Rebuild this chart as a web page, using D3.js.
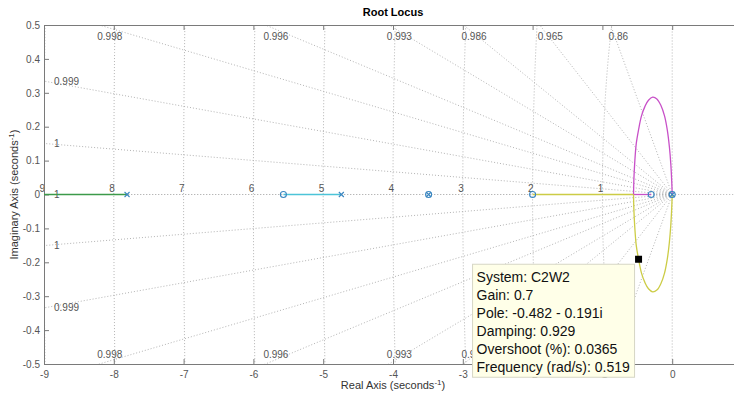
<!DOCTYPE html>
<html>
<head>
<meta charset="utf-8">
<script src="https://cdn.jsdelivr.net/npm/d3@7"></script>
<style>
  body { margin: 0; background: #fff; }
  svg { display: block; font-family: "Liberation Sans", Arial, sans-serif; }
</style>
</head>
<body>
<div id="chart"></div>
<script>
// tick labels
let xTicks = [-9, -8, -7, -6, -5, -4, -3, -2, -1, 0];
let yTicks = [0.5, 0.4, 0.3, 0.2, 0.1, 0, -0.1, -0.2, -0.3, -0.4, -0.5];

// grid: natural frequency circles and damping rays
let freqRadii = [1, 2, 3, 4, 5, 6, 7, 8, 9];
let freqLabels = ['1', '2', '3', '4', '5', '6', '7', '8', '9'];
let dampingValues = [1, 0.99986, 0.99931, 0.99815, 0.99634, 0.9925, 0.9863, 0.967, 0.87];
let dampingLabels = ['1', '1', '0.999', '0.998', '0.996', '0.993', '0.986', '0.965', '0.86'];

// poles and zeros (real parts)
let poles = [-7.81, -4.74, -3.49, 0];
let zeros = [-5.57, -3.49, -2.0, -0.301, 0];

// branches on the real axis [re, im]
let greenBranch = [[-12, 0], [-7.81, 0]];
let cyanBranch = [[-5.57, 0], [-4.74, 0]];
let yellowAxis = [[-2.0, 0], [-0.554, 0]];
let magentaAxis = [[-0.554, 0], [-0.301, 0]];

// upper loop (magenta), the lower one (yellow) is its mirror
let loopRe = [-0.554, -0.548, -0.535, -0.515, -0.482, -0.44, -0.39, -0.34, -0.28, -0.22, -0.16, -0.11, -0.07, -0.04, -0.02, -0.007, 0];
let loopIm = [0, 0.05, 0.10, 0.15, 0.191, 0.232, 0.26, 0.278, 0.287, 0.282, 0.262, 0.232, 0.19, 0.14, 0.09, 0.04, 0];

// data tip
let tipPoint = [-0.482, -0.191];
let tipLines = ['System: C2W2', 'Gain: 0.7', 'Pole: -0.482 - 0.191i', 'Damping: 0.929', 'Overshoot (%): 0.0365', 'Frequency (rad/s): 0.519'];

let margin = { top: 25, right: -8, bottom: 31, left: 44 };
let width = 734 - margin.left - margin.right;
let height = 395 - margin.top - margin.bottom;

let svg = d3.select('#chart')
    .append('svg')
    .attr('width', 734)
    .attr('height', 395)
    .append('g')
    .attr('transform', `translate(${margin.left}, ${margin.top})`);

let x = d3.scaleLinear().domain([-9, 1]).range([0, width]);
let y = d3.scaleLinear().domain([-0.5, 0.5]).range([height, 0]);

svg.append('clipPath').attr('id', 'plotclip')
    .append('rect').attr('width', width).attr('height', height);

let grid = svg.append('g').attr('clip-path', 'url(#plotclip)')
    .attr('fill', 'none')
    .attr('stroke', '#b4b4b4')
    .attr('stroke-width', 1)
    .attr('stroke-dasharray', '1,2');

let line = d3.line().x(d => x(d[0])).y(d => y(d[1]));

// frequency circles (ellipses on screen)
let angles = d3.range(-90, 90.5, 0.5).map(a => a * Math.PI / 180);
freqRadii.forEach(r => {
    grid.append('path').attr('d', line(angles.map(a => [-r * Math.cos(a), r * Math.sin(a)])));
});

// damping rays
dampingValues.forEach(z => {
    let s = Math.sqrt(1 - z * z);
    grid.append('path').attr('d', line([[0, 0], [-20 * z, 20 * s]]));
    grid.append('path').attr('d', line([[0, 0], [-20 * z, -20 * s]]));
});
// real axis to the right, imaginary axis
grid.append('path').attr('d', line([[0, 0], [2, 0]]));
grid.append('path').attr('d', line([[0, -1], [0, 1]]));

// grid labels
let gl = svg.append('g')
    .style('font-size', '10px')
    .attr('fill', '#555');

freqRadii.forEach((r, i) => {
    gl.append('text').text(freqLabels[i])
        .attr('x', x(-r) + 1)
        .attr('y', y(0) - 3)
        .attr('text-anchor', 'end');
});

dampingValues.forEach((z, i) => {
    let slope = Math.sqrt(1 - z * z) / z;
    if (slope * 9 <= 0.5) {
        [1, -1].forEach(sgn => {
            if (slope === 0 && sgn < 0) return;
            gl.append('text').text(dampingLabels[i])
                .attr('x', x(-9) + 10)
                .attr('y', y(sgn * slope * 9))
                .attr('dy', '0.35em');
        });
    } else {
        let cx = x(-0.5 / slope) - 2;
        gl.append('text').text(dampingLabels[i]).attr('x', cx).attr('y', y(0.5) + 15);
        gl.append('text').text(dampingLabels[i]).attr('x', cx).attr('y', y(-0.5) - 6);
    }
});

// axes
let axisColor = '#7a7a7a';
let styleAxis = g => {
    g.select('.domain').attr('stroke', axisColor);
    g.selectAll('.tick line').attr('stroke', axisColor);
    g.selectAll('.tick text').attr('fill', '#555').style('font-size', '10px');
};

svg.append('g')
    .attr('transform', `translate(0,${height})`)
    .call(d3.axisBottom(x).tickValues(xTicks).tickFormat(d => String(d)).tickSizeInner(-5).tickSizeOuter(0).tickPadding(7))
    .call(styleAxis);

svg.append('g')
    .call(d3.axisTop(x).tickValues(xTicks).tickFormat('').tickSizeInner(-5).tickSizeOuter(0))
    .call(styleAxis);

svg.append('g')
    .call(d3.axisLeft(y).tickValues(yTicks).tickFormat(d => String(d)).tickSizeInner(-5).tickSizeOuter(0).tickPadding(4))
    .call(styleAxis);

// branches
let plot = svg.append('g').attr('clip-path', 'url(#plotclip)').attr('fill', 'none').attr('stroke-width', 1.3);

plot.append('path').attr('d', line(greenBranch)).attr('stroke', '#3c9a4a');
plot.append('path').attr('d', line(cyanBranch)).attr('stroke', '#4cc4d8');
plot.append('path').attr('d', line(yellowAxis)).attr('stroke', '#cccc45');
plot.append('path').attr('d', line(magentaAxis)).attr('stroke', '#c850c8');

let curve = d3.line().x(d => x(d[0])).y(d => y(d[1])).curve(d3.curveCatmullRom.alpha(0.5));
let upper = loopRe.map((re, i) => [re, loopIm[i]]);
let lower = loopRe.map((re, i) => [re, -loopIm[i]]);
plot.append('path').attr('d', curve(upper)).attr('stroke', '#c850c8');
plot.append('path').attr('d', curve(lower)).attr('stroke', '#cccc45');

// pole / zero markers
let markColor = '#3a86c0';
zeros.forEach(z => {
    svg.append('circle')
        .attr('cx', x(z)).attr('cy', y(0)).attr('r', 3)
        .attr('fill', 'none').attr('stroke', markColor).attr('stroke-width', 1.1);
});
poles.forEach(p => {
    let px = x(p), py = y(0), k = 2.5;
    svg.append('path')
        .attr('d', `M${px - k},${py - k}L${px + k},${py + k}M${px - k},${py + k}L${px + k},${py - k}`)
        .attr('stroke', markColor).attr('stroke-width', 1.1);
});

// data tip
svg.append('rect')
    .attr('x', x(tipPoint[0]) - 3.5).attr('y', y(tipPoint[1]) - 3.5)
    .attr('width', 7).attr('height', 7)
    .attr('fill', '#000');

let boxW = 162, boxH = 113;
let bx = x(tipPoint[0]) - 4 - boxW;
let by = y(tipPoint[1]) + 5;
svg.append('rect')
    .attr('x', bx).attr('y', by)
    .attr('width', boxW).attr('height', boxH)
    .attr('fill', '#ffffe8')
    .attr('stroke', '#d6d6c4');

tipLines.forEach((t, i) => {
    svg.append('text').text(t)
        .attr('x', bx + 4)
        .attr('y', by + 18 + i * 18)
        .style('font-size', '14px')
        .attr('fill', '#111');
});

// title and axis labels
svg.append('text')
    .text('Root Locus')
    .attr('x', (x(-9) + x(1)) / 2)
    .attr('y', -9)
    .attr('text-anchor', 'middle')
    .style('font-size', '11px')
    .style('font-weight', 'bold');

let xl = svg.append('text')
    .attr('x', (x(-9) + x(1)) / 2)
    .attr('y', height + 25)
    .attr('text-anchor', 'middle')
    .style('font-size', '11px')
    .attr('fill', '#333');
xl.append('tspan').text('Real Axis (seconds');
xl.append('tspan').text('-1').attr('dy', -4).style('font-size', '8px');
xl.append('tspan').text(')').attr('dy', 4);

let yl = svg.append('text')
    .attr('transform', `translate(${-26},${y(0)}) rotate(-90)`)
    .attr('text-anchor', 'middle')
    .style('font-size', '11px')
    .attr('fill', '#333');
yl.append('tspan').text('Imaginary Axis (seconds');
yl.append('tspan').text('-1').attr('dy', -4).style('font-size', '8px');
yl.append('tspan').text(')').attr('dy', 4);
</script>
</body>
</html>
